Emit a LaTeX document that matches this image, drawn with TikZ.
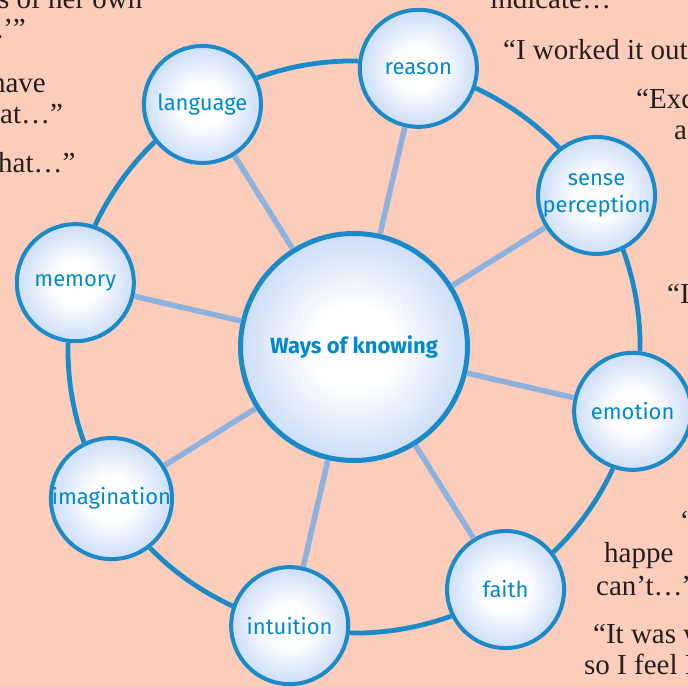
\documentclass[tikz,border=0pt]{standalone}
\usepackage{fontspec}
\setmainfont{Liberation Serif}
\newfontfamily\labelfont{Fira Sans}
\definecolor{bg}{RGB}{251,205,186}
\definecolor{ringblue}{RGB}{27,138,200}
\definecolor{spokeblue}{RGB}{141,178,222}
\definecolor{labblue}{RGB}{0,137,207}
\definecolor{bubblemid}{RGB}{205,222,248}
\definecolor{bubbleedge}{RGB}{150,182,232}
\definecolor{quotecol}{RGB}{35,31,32}
\pgfdeclareradialshading{bubble}{\pgfpoint{0bp}{0bp}}{color(0bp)=(white); color(9bp)=(white); color(25bp)=(bubblemid); color(35bp)=(bubbleedge); color(50bp)=(bubbleedge)}
\tikzset{
  bub/.style={circle, draw=ringblue, line width=4pt, shading=bubble, minimum size=117pt,
    inner sep=0pt, text=labblue, font=\labelfont\fontsize{22pt}{27pt}\selectfont, align=center},
  hub/.style={bub, line width=5pt, minimum size=227pt, font=\labelfont\bfseries\fontsize{22pt}{27pt}\selectfont},
  spoke/.style={draw=spokeblue, line width=5.5pt},
  ring/.style={draw=ringblue, line width=4.8pt},
  quote/.style={font=\fontsize{29pt}{30pt}\selectfont, text=quotecol, inner sep=0pt, anchor=base west}
}
\begin{document}
\begin{tikzpicture}[x=1pt, y=-1pt]
\useasboundingbox (0,0) rectangle (688,687);
\fill[bg] (0,0) rectangle (688,687);
\clip (0,0) rectangle (688,687);
% quotes (cut by the page edge)
\node[quote] (q1) at (-2,9) {s of her own};
\node[quote, anchor=base east] (q2) at (26,39) {.’”};
\node[quote, anchor=base east] (q3) at (46,93) {have};
\node[quote] (q4) at (0,124) {at…”};
\node[quote] (q5) at (-2,173) {hat…”};
\node[quote] (q6) at (490,9) {indicate…};
\node[quote] (q7) at (503,60) {“I worked it out};
\node[quote] (q8) at (636,109) {“Exc};
\node[quote] (q9) at (674,140) {a};
\node[quote] (q10) at (667,303) {“I};
\node[quote] (q11) at (681,530) {“};
\node[quote] (q12) at (604,562) {happe};
\node[quote] (q13) at (596,595) {can’t…”};
\node[quote] (q14) at (593,643) {“It was w};
\node[quote] (q15) at (584,674) {so I feel I};
% diagram
\node[hub] (wok) at (354,347) {Ways of knowing};
\foreach \n/\a/\t in {reason/77/reason, sense/32/{sense\\perception}, emotion/347/emotion,
    faith/302/faith, intuition/257/intuition, imagination/212/imagination,
    memory/167/memory, language/122/language}{
  \path (wok) ++(\a:286pt) node[bub] (\n) {\t};
}
\foreach \n in {reason, sense, emotion, faith, intuition, imagination, memory, language}{
  \draw[spoke] (wok) -- (\n);
}
\foreach \a/\b/\t in {reason/sense/77, sense/emotion/32, emotion/faith/347, faith/intuition/302,
    intuition/imagination/257, imagination/memory/212, memory/language/167, language/reason/122}{
  \pgfmathtruncatemacro\sa{mod(\t-96+720,360)}
  \pgfmathtruncatemacro\so{mod(\t-102+720,360)}
  \pgfmathtruncatemacro\ea{mod(\t+51+720,360)}
  \pgfmathtruncatemacro\ei{mod(\t+57+720,360)}
  \draw[ring] (\a.\sa) to[out=\so, in=\ei, looseness=0.858] (\b.\ea);
}
\end{tikzpicture}
\end{document}
